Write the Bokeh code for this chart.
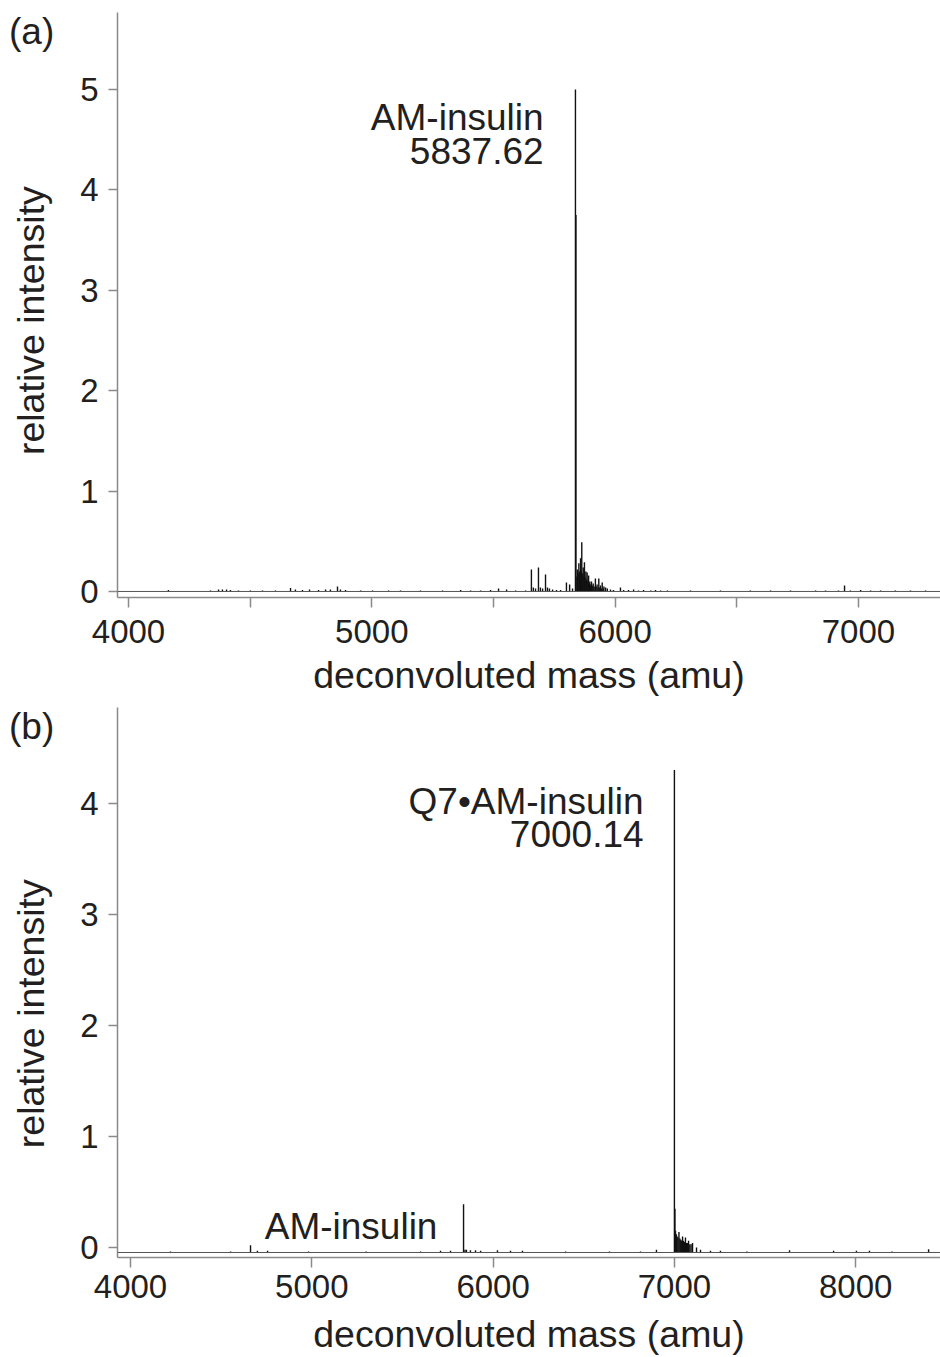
from bokeh.plotting import figure
from bokeh.models import FixedTicker, Label, Span, Range1d
from bokeh.layouts import column
from bokeh.embed import file_html
from bokeh.resources import INLINE

# ---------------- data: panel (a) ----------------
a_mass = [4164, 4337, 4370, 4386, 4403, 4419, 4452, 4501, 4551, 4604,
          4666, 4686, 4715, 4744, 4781, 4810, 4830, 4859, 4871, 4892,
          4954, 5003, 5069, 5118, 5200, 5291, 5365, 5406, 5447, 5488,
          5521, 5554, 5591, 5632,
          5656, 5664, 5673, 5685, 5693, 5702, 5714, 5722, 5730, 5743,
          5759, 5776, 5800, 5813, 5825,
          5837, 5839,
          5843, 5845, 5848, 5851, 5854, 5858, 5861, 5863, 5866, 5869,
          5872, 5874, 5877, 5880, 5883, 5885, 5888, 5891, 5894, 5896,
          5899, 5903, 5906, 5910, 5914, 5919, 5922, 5926, 5930, 5933,
          5937, 5940, 5944, 5947, 5951, 5954, 5961, 5968, 5981, 5993,
          6022, 6035, 6055, 6076, 6096, 6117, 6146, 6166, 6187, 6215,
          6310, 6433, 6556, 6639, 6721, 6824, 6865, 6918, 6943, 6967,
          7009, 7050, 7091, 7152, 7214, 7276]
a_int = [0.015, 0.01, 0.02, 0.02, 0.02, 0.015, 0.01, 0.01, 0.01, 0.01,
         0.035, 0.02, 0.015, 0.02, 0.015, 0.02, 0.02, 0.05, 0.02, 0.015,
         0.01, 0.01, 0.01, 0.01, 0.01, 0.01, 0.015, 0.01, 0.01, 0.015,
         0.03, 0.02, 0.01, 0.01,
         0.22, 0.04, 0.03, 0.24, 0.04, 0.03, 0.17, 0.04, 0.03, 0.02,
         0.015, 0.015, 0.09, 0.07, 0.03,
         5.0, 3.75,
         0.15, 0.22, 0.18, 0.28, 0.2, 0.33, 0.2, 0.49, 0.18, 0.24,
         0.15, 0.29, 0.14, 0.2, 0.12, 0.19, 0.1, 0.16, 0.08, 0.1,
         0.07, 0.1, 0.06, 0.08, 0.05, 0.13, 0.05, 0.07, 0.04, 0.13,
         0.04, 0.06, 0.03, 0.09, 0.03, 0.05, 0.04, 0.03, 0.02, 0.015,
         0.04, 0.015, 0.015, 0.02, 0.01, 0.015, 0.01, 0.015, 0.01, 0.01,
         0.01, 0.01, 0.01, 0.01, 0.01, 0.01, 0.01, 0.01, 0.06, 0.01,
         0.015, 0.01, 0.01, 0.01, 0.01, 0.01]
a_base = 0.0
a_xticks = [4000, 5000, 6000, 7000]
a_xminor = [4500, 5500, 6500]
a_yticks = [0, 1, 2, 3, 4, 5]

# ---------------- data: panel (b) ----------------
b_mass = [4221, 4552, 4662, 4700, 4756, 4982, 5300, 5600, 5710, 5765,
          5837, 5845, 5853, 5875, 5903, 5931, 6024, 6096, 6162, 6400,
          6642, 6813, 6901,
          7000, 7003, 7006, 7011, 7015, 7020, 7025, 7030, 7035, 7040,
          7045, 7050, 7055, 7061, 7067, 7072, 7078, 7085, 7092, 7100,
          7122, 7144, 7199, 7254, 7400, 7635, 7878, 8004, 8076, 8200, 8402]
b_int = [-0.035, -0.035, 0.02, -0.03, -0.03, -0.035, -0.035, -0.035, -0.03, -0.03,
         0.39, -0.02, -0.02, -0.025, -0.025, -0.03, -0.025, -0.03, -0.03, -0.035,
         -0.035, -0.035, -0.02,
         4.30, 0.35, 0.15, 0.12, 0.1, 0.09, 0.14, 0.08, 0.07, 0.06,
         0.1, 0.06, 0.05, 0.09, 0.04, 0.04, 0.06, 0.03, 0.03, 0.04,
         0.0, -0.02, -0.03, -0.03, -0.035, -0.025, -0.03, -0.03, -0.03, -0.035, -0.015]
b_base = -0.045
b_xticks = [4000, 5000, 6000, 7000, 8000]
b_yticks = [0, 1, 2, 3, 4]

panel_names = ["(a)", "(b)"]

FONT = "Liberation Sans"
TXT = "#231f20"
AX = "#8a8a8a"
NB = "\u00a0"


def style(p, x_label_standoff, x_major_standoff, ylabel_pad):
    p.xgrid.visible = False
    p.ygrid.visible = False
    p.outline_line_color = None
    for ax in p.axis:
        ax.axis_line_color = AX
        ax.axis_line_width = 1.5
        ax.major_tick_line_color = AX
        ax.major_tick_line_width = 1.5
        ax.minor_tick_line_color = AX
        ax.minor_tick_line_width = 1.5
        ax.major_tick_in = 0
        ax.minor_tick_in = 0
        ax.major_label_text_font = FONT
        ax.major_label_text_font_size = "33px"
        ax.major_label_text_color = TXT
        ax.axis_label_text_font = FONT
        ax.axis_label_text_font_size = "37.5px"
        ax.axis_label_text_font_style = "normal"
        ax.axis_label_text_color = TXT
    p.xaxis.axis_label = "deconvoluted mass (amu)"
    p.yaxis.axis_label = "relative intensity" + NB * ylabel_pad
    p.xaxis.major_tick_out = 10
    p.xaxis.minor_tick_out = 10
    p.xaxis.major_label_standoff = x_major_standoff
    p.xaxis.axis_label_standoff = x_label_standoff
    p.yaxis.major_tick_out = 9
    p.yaxis.minor_tick_out = 0
    p.yaxis.major_label_standoff = 10
    p.yaxis.axis_label_standoff = 25


def label(p, x, y, text):
    p.add_layout(Label(x=x, y=y, text=text, text_font=FONT, text_font_size="37px",
                       text_color=TXT, text_align="right", text_baseline="alphabetic"))


# ---------------- panel (a) ----------------
pa = figure(width=940, height=698, output_backend="svg", toolbar_location=None,
            x_range=Range1d(3954.8, 7337.4), y_range=Range1d(-0.06, 5.767),
            min_border_left=117, min_border_right=0, min_border_top=12,
            min_border_bottom=101)
pa.add_layout(Span(location=a_base, dimension="width", line_color="#555555", line_width=1))
pa.segment(x0=a_mass, y0=[a_base] * len(a_mass), x1=a_mass, y1=a_int,
           line_color="#111111", line_width=1.4)
style(pa, 8, 12, 3)
pa.xaxis.ticker = FixedTicker(ticks=a_xticks, minor_ticks=a_xminor)
pa.yaxis.ticker = FixedTicker(ticks=a_yticks, minor_ticks=[])
label(pa, 5706, 4.72, "AM-insulin")
label(pa, 5706, 4.39, "5837.62")

# ---------------- panel (b) ----------------
pb = figure(width=940, height=659, output_backend="svg", toolbar_location=None,
            x_range=Range1d(3928.3, 8467.7), y_range=Range1d(-0.09, 4.863),
            min_border_left=117, min_border_right=0, min_border_top=9,
            min_border_bottom=99)
pb.add_layout(Span(location=b_base, dimension="width", line_color="#555555", line_width=1))
pb.segment(x0=b_mass, y0=[b_base] * len(b_mass), x1=b_mass, y1=b_int,
           line_color="#111111", line_width=1.4)
style(pb, 12, 7, 6)
pb.xaxis.ticker = FixedTicker(ticks=b_xticks, minor_ticks=[])
pb.yaxis.ticker = FixedTicker(ticks=b_yticks, minor_ticks=[])
label(pb, 6830, 4.02, "Q7\u2022AM-insulin")
label(pb, 6830, 3.72, "7000.14")
label(pb, 5693, 0.19, "AM-insulin")

layout = column(pa, pb)
html = file_html(layout, INLINE)

# panel letters sit in the left margin, outside the plot frames (Bokeh clips
# in-frame annotations), so they are placed as page text over the canvases
letter_style = ("position:absolute;left:{left}px;top:{top}px;margin:0;"
                "font-family:'Liberation Sans';font-size:37px;line-height:1;"
                "color:#231f20;z-index:10;white-space:nowrap;")
overlay = "".join(
    '<div style="%s">%s</div>' % (letter_style.format(left=left, top=top), name)
    for name, left, top in zip(panel_names, [9, 9], [13, 708])
)
html = html.replace("</body>", overlay + "</body>")
open("out.html", "w").write(html)
